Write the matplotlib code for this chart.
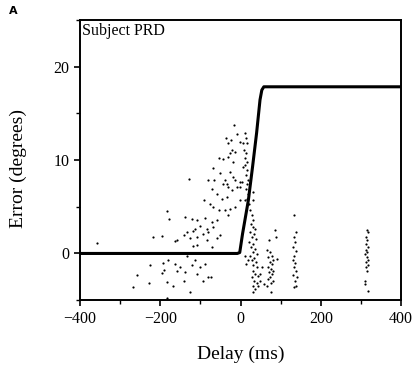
import matplotlib
matplotlib.use('Agg')
import matplotlib.pyplot as plt
from matplotlib.ticker import MultipleLocator

# fitted curve
curve_delay = [-400, -8, -2, 5, 19.5, 30, 40, 48.5, 53, 58, 400]
curve_error = [0, 0, 0.1, 2.1, 5.7, 9.3, 12.9, 16.45, 17.5, 17.85, 17.85]

# individual trials, left cluster
delay_left = [-16.2, -7.9, -24.5, -36.1, -30.3, -1.2, 5.4, -22, -26.1, -13.7, -52.7, -42.8, -30.3,
              -17.8, -67.7, -51, -26.1, -17.8, -13.7, -80.1, -66, -128.3, -38.6, -34.5, -30.3,
              -42.8, -71.8, -59.4, -46.9, -34.5, -22, -9.5, -1.2, -90.9, -76, -67.7, -52.7, -38.6,
              -26.1, -13.7, -1.2, -30.3, -182.3, -177.3, -138.3, -121.7, -107.5, -88.5, -71.8,
              -59.4, -100.9, -84.3, -113.4, -134.1, -119.2, -67.7, -51, -218.9, -196.4, -163.2,
              -157.4, -140.8, -125.8, -109.2, -94.3, -80.1, -59.4, -117.5, -109.2, -71.8, -84.3,
              -356.8,
              -225.5, -257.1, -268.7, -227.2, -196.4, -190.6, -179.8, -184, -167.4, -163.2,
              -159.1, -150.7, -138.3, -140.8, -125.8, -121.7, -113.4, -109.2, -100.9, -92.6,
              -88.5, -80.1, -74.3, -184, -192.3, -134.1]
error_left = [13.76, 12.76, 12.15, 12.33, 11.79, 11.97, 11.79, 11.07, 10.72, 10.9, 10.18, 10.07, 10.36,
              9.82, 9.17, 8.57, 8.74, 8.21, 7.85, 7.85, 7.92, 7.96, 7.85, 7.49, 7.13,
              7.49, 6.95, 6.41, 5.88, 6.06, 6.77, 7.13, 7.67, 5.7, 5.34, 4.98, 4.62, 4.62,
              4.8, 4.98, 5.7, 4.09, 4.55, 3.69, 3.94, 3.73, 3.62, 3.83, 3.37,
              3.55, 2.9, 2.65, 2.65, 2.29, 2.4, 2.83, 1.94, 1.79, 1.9, 1.29,
              1.47, 2.01, 1.69, 1.76, 2.11, 2.29, 1.65, 0.75, 0.86, 0.68, 1.4,
              1.15,
              -1.25, -2.33, -3.55, -3.19, -2.11, -1.76, -0.68, -3.08, -3.44, -1.11,
              -1.83, -1.47, -2.01, -2.9, -4.16, -1.29, -0.68, -2.19, -1.47, -2.9,
              -1.11, -2.54, -2.47, -4.77, -1.04, -0.22]

# trials near and after zero delay
delay_right = [11.1, 13.6, 15.3, 9.5, 12.8, 11.1, 15.3, 12, 17, 13.6, 19.4, 16.1, 12.8, 17.8, 15.3,
               20.3, 11.1, 2.8, -1.3, 5.3, 31.9, 30.3,
               23.6, 27.8, 31.9, 25.3, 30.3, 36.1, 23.6, 33.6, 27.8, 38.6, 22, 31.9, 26.1, 36.1,
               30.3, 40.2, 23.6, 33.6, 27.8, 38.6, 31.9, 41.9, 30.3, 36.1, 44.4, 27.8, 33.6, 40.2,
               30.3, 36.1, 31.9, 44.4, 48.5, 13.6, 11.1, 19.4,
               71.8, 65.1, 73.4, 77.6, 69.3, 81.7, 73.4, 77.6, 69.3, 75.1, 80.1, 71.8, 77.6, 73.4,
               69.3, 80.1, 75.1, 65.1, 85.9, 88.4, 91.7, 58.5, 76, 48.5, 52.7,
               134.1, 137.4, 133.3, 135.8, 131.6, 138.2, 134.1, 130, 136.6, 132.4, 137.4, 131.6,
               139.9, 135.8, 134.1, 138.2,
               314.4, 316.9, 311.9, 316, 313.5, 317.7, 312.7, 316, 311, 315.2, 318.5, 313.5, 316.9,
               311.9, 315.2, 310.2, 310.2, 316.9]
error_right = [12.87, 12.33, 11.79, 11.07, 10.72, 10.18, 9.82, 9.46, 8.92, 8.39, 7.85, 7.49, 6.95, 6.41, 5.88,
               5.34, 5.7, 7.67, 7.13, 9.28, 6.6, 5.7,
               4.62, 4.09, 3.55, 3.19, 2.83, 2.65, 2.29, 2.11, 1.76, 1.58, 1.22, 1.04, 0.68, 0.5,
               0.14, -0.04, -0.22, -0.47, -0.75, -0.93, -1.29, -1.47, -1.83, -2.19, -2.37, -2.54, -2.9, -3.19,
               -3.44, -3.8, -4.16, -3.44, -2.9, -1.11, -0.22, -0.75,
               1.4, 0.39, 0.14, -0.22, -0.4, -0.68, -0.93, -1.18, -1.4, -1.65, -1.83, -2.01, -2.19, -2.47,
               -2.72, -2.9, -3.19, -3.44, 2.47, 1.76, -0.57, -3.26, -4.16, -2.19, -1.47,
               4.16, 2.29, 1.76, 1.22, 0.68, 0.25, -0.22, -0.68, -1.04, -1.4, -1.83, -2.26,
               -2.47, -2.9, -3.55, -3.44,
               2.54, 2.29, 1.76, 1.4, 1.04, 0.68, 0.39, 0.14, -0.11, -0.4, -0.68, -0.93, -1.22,
               -1.47, -1.83, -2.9, -3.26, -4.05]

plt.rcParams['font.family'] = 'Liberation Serif'

fig = plt.figure(figsize=(4.14, 3.71), dpi=100)
ax = fig.add_axes([0.193, 0.191, 0.776, 0.755])

# scatter
ax.scatter(delay_left + delay_right, error_left + error_right, s=2.5, c='black', linewidths=0, zorder=2)
# fitted curve
ax.plot(curve_delay, curve_error, color='black', linewidth=2.2, zorder=3)

ax.set_xlim(-400, 400)
ax.set_ylim(-5, 25)
ax.xaxis.set_major_locator(MultipleLocator(200))
ax.xaxis.set_minor_locator(MultipleLocator(100))
ax.yaxis.set_major_locator(MultipleLocator(10))
ax.yaxis.set_minor_locator(MultipleLocator(5))
ax.tick_params(which='major', direction='out', length=4, width=1.2, labelsize=11.5)
ax.tick_params(which='minor', direction='out', length=3, width=1.0)
for s in ax.spines.values():
    s.set_linewidth(1.4)

# labels
ax.set_xlabel('Delay (ms)', fontsize=14, labelpad=14)
ax.set_ylabel('Error (degrees)', fontsize=14)
ax.yaxis.set_label_coords(-0.165, 0.47)
ax.text(0.008, 0.99, 'Subject PRD', transform=ax.transAxes, fontsize=11.5, va='top', ha='left')
fig.text(0.022, 0.962, 'A', fontsize=8, fontweight='bold', family='DejaVu Sans')

plt.savefig('out.png', dpi=100)
